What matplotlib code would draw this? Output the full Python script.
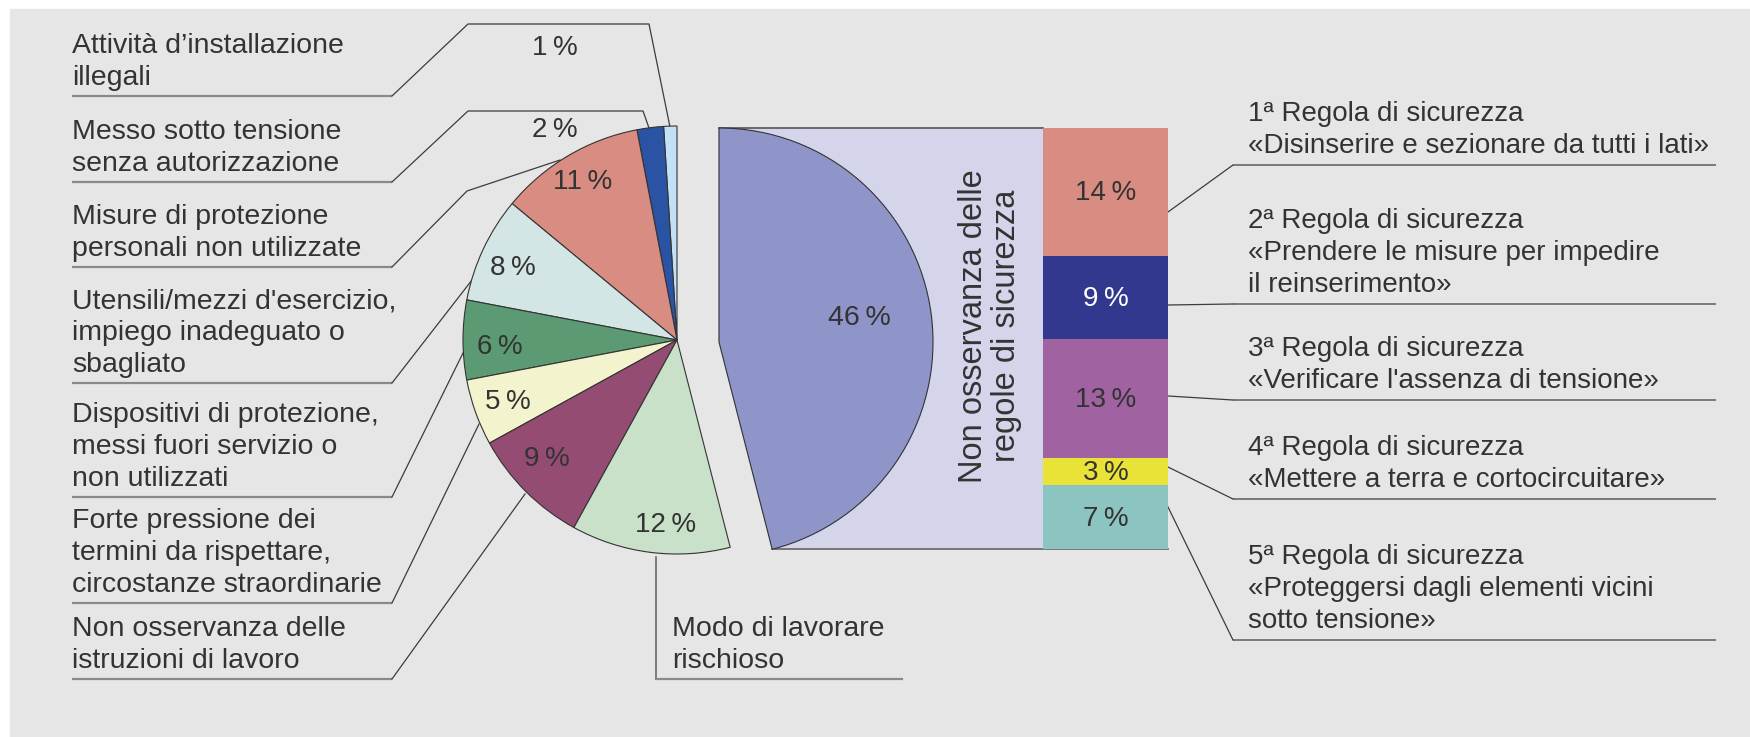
import numpy as np
import matplotlib.pyplot as plt
from matplotlib.patches import Polygon

# causes of electrical accidents, left pie (percent)
cause_values = [1, 2, 11, 8, 6, 5, 9, 12]
cause_labels = [
    "Attività d’installazione\nillegali",
    "Messo sotto tensione\nsenza autorizzazione",
    "Misure di protezione\npersonali non utilizzate",
    "Utensili/mezzi d'esercizio,\nimpiego inadeguato o\nsbagliato",
    "Dispositivi di protezione,\nmessi fuori servizio o\nnon utilizzati",
    "Forte pressione dei\ntermini da rispettare,\ncircostanze straordinarie",
    "Non osservanza delle\nistruzioni di lavoro",
    "Modo di lavorare\nrischioso",
]
cause_colors = ["#c2e1f7", "#2b53a4", "#d98c82", "#d3e6e5", "#5b9a72",
                "#f3f3cd", "#944c73", "#c9e1c8"]

# exploded part: not following the safety rules
safety_total = 46
safety_label = "Non osservanza delle\nregole di sicurezza"
safety_color = "#8f95c8"

# breakdown of the 46 % over the five safety rules
rule_values = [14, 9, 13, 3, 7]
rule_labels = [
    "1ª Regola di sicurezza\n«Disinserire e sezionare da tutti i lati»",
    "2ª Regola di sicurezza\n«Prendere le misure per impedire\nil reinserimento»",
    "3ª Regola di sicurezza\n«Verificare l'assenza di tensione»",
    "4ª Regola di sicurezza\n«Mettere a terra e cortocircuitare»",
    "5ª Regola di sicurezza\n«Proteggersi dagli elementi vicini\nsotto tensione»",
]
rule_colors = ["#d98c82", "#33388f", "#a062a0", "#e9e337", "#8cc4c1"]

W, H = 1750, 737
TXT = "#333333"
plt.rcParams['font.family'] = ['Liberation Sans', 'DejaVu Sans']


def pct(v):
    return f"{v}\u2009%"


fig = plt.figure(figsize=(W / 100, H / 100), dpi=100, facecolor="white")
ax = fig.add_axes([0, 0, 1, 1])

# gray panel
ax.add_patch(plt.Rectangle((10, 9), W - 10, H - 9, color="#e5e6e5", zorder=0))

# y axis is inverted (pixel layout), so angles run the other way
R = 214
wedges, _ = ax.pie(cause_values + [safety_total],
                   colors=cause_colors + [safety_color],
                   startangle=-90, counterclock=False,
                   center=(677, 340), radius=R,
                   wedgeprops=dict(edgecolor="#333333", linewidth=0.8, zorder=3))
half = wedges[-1]
cx, cy = 719, 342
half.set_center((cx, cy))

# lavender box right of the exploded half disc, up to the bar
bar_l, bar_r = 1043, 1168
top = cy + R * np.sin(np.deg2rad(half.theta1))
bx = cx + R * np.cos(np.deg2rad(half.theta2))
by = cy + R * np.sin(np.deg2rad(half.theta2))
ax.add_patch(Polygon([(cx, top), (bar_l, top), (bar_l, by), (bx, by), (cx, cy)],
                     closed=True, color="#d4d5eb", zorder=1))
ax.plot([cx, bar_l], [top, top], color="#555555", lw=1.2, zorder=2)
ax.plot([bx, bar_r], [by, by], color="#666666", lw=1.2, zorder=2)

ax.set_xlim(0, W)
ax.set_ylim(H, 0)
ax.set_aspect("auto")
ax.axis("off")

# percent labels on the pie
cause_pos = [(555, 48), (555, 130), (583, 182), (513, 268), (500, 347),
             (508, 402), (547, 459), (666, 525)]
for v, (x, y) in zip(cause_values, cause_pos):
    ax.text(x, y, pct(v), ha="center", va="center", fontsize=20, color=TXT, zorder=5)
ax.text(859, 318, pct(safety_total), ha="center", va="center", fontsize=20.5,
        color=TXT, zorder=5)
ax.text(990, 326, safety_label, rotation=90, ha="center", va="center",
        multialignment="center", fontsize=23.5, color=TXT, linespacing=1.12, zorder=5)

# left labels with underline and leader
under_left = [96, 182, 267, 383, 497, 603, 679]
leaders_left = [
    [(392, 96), (468, 24), (649, 24), (670, 127)],
    [(392, 182), (468, 111), (643, 111), (649, 128)],
    [(392, 267), (467, 191), (560, 160)],
    [(392, 383), (472, 280)],
    [(392, 497), (465, 349)],
    [(392, 603), (479, 424)],
    [(392, 679), (525, 494)],
]
for lab, uy, pts in zip(cause_labels[:7], under_left, leaders_left):
    ax.text(72, uy - 5, lab, ha="left", va="bottom", fontsize=20.5, color=TXT,
            linespacing=1.3)
    ax.plot([72, 392], [uy, uy], color="#8a8a8a", lw=1.6, solid_capstyle="butt")
    xs, ys = zip(*pts)
    ax.plot(xs, ys, color="#3c3c3c", lw=0.9)

# "Modo di lavorare rischioso"
ax.text(672, 674, cause_labels[7], ha="left", va="bottom", fontsize=20.5,
        color=TXT, linespacing=1.3)
ax.plot([656, 656], [557, 679], color="#6a6a6a", lw=1.2)
ax.plot([656, 902], [679, 679], color="#8a8a8a", lw=1.6)

# stacked bar of the safety rules
bax = fig.add_axes([bar_l / W, (H - by) / H, (bar_r - bar_l) / W, (by - top) / H])
bottoms = [sum(rule_values[:i]) for i in range(len(rule_values))]
bax.bar(0, rule_values, bottom=bottoms, width=1, color=rule_colors)
bax.set_xlim(-0.5, 0.5)
bax.set_ylim(sum(rule_values), 0)
bax.axis("off")
for v, b, c in zip(rule_values, bottoms, rule_colors):
    col = "white" if c == "#33388f" else TXT
    bax.text(0, b + v / 2 + 0.15, pct(v), ha="center", va="center", fontsize=20,
             color=col)

# right labels
under_right = [165, 304, 400, 499, 640]
leader_start = [212, 305, 396, 467, 507]
for lab, uy, sy in zip(rule_labels, under_right, leader_start):
    ax.text(1248, uy - 6, lab, ha="left", va="bottom", fontsize=20, color=TXT,
            linespacing=1.3)
    ax.plot([1233, 1716], [uy, uy], color="#7a7a7a", lw=1.4, solid_capstyle="butt")
    ax.plot([bar_r, 1233], [sy, uy], color="#3c3c3c", lw=0.9)

fig.savefig("out.png", dpi=100, facecolor="white")
